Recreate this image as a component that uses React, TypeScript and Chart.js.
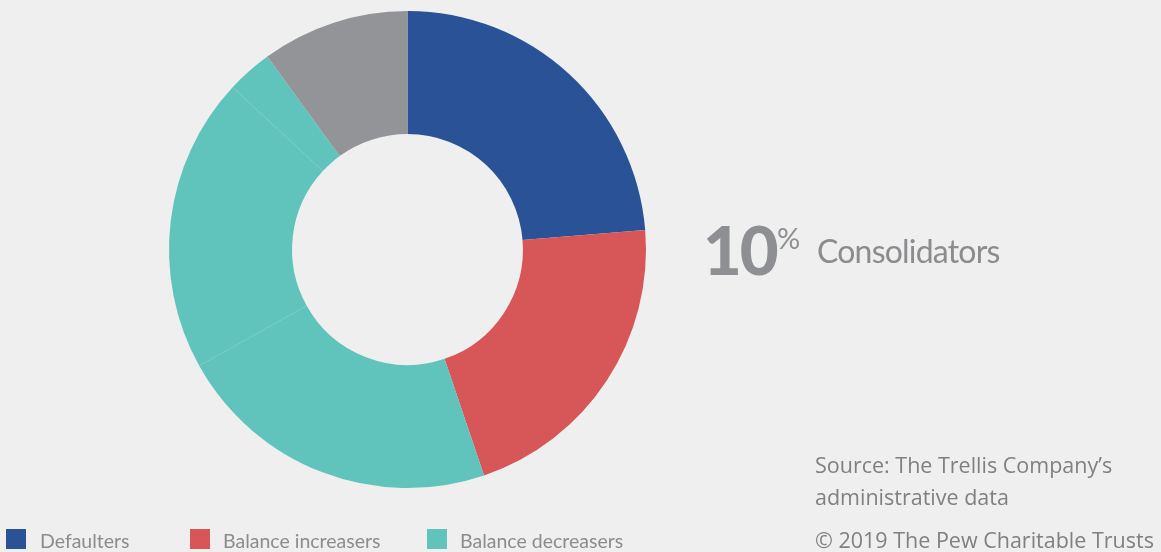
import React, { useEffect, useRef } from "react";
import { Chart, registerables } from "chart.js";

Chart.register(...registerables);

const segmentLabels = [
  "Defaulters",
  "Balance increasers",
  "Balance decreasers",
  "Balance decreasers",
  "Balance decreasers",
  "Consolidators",
];
const segmentValues = [23.7, 21.1, 22.1, 20.0, 3.1, 10.0];
const segmentColors = ["#2a5297", "#d75657", "#60c4bc", "#60c4bc", "#60c4bc", "#939497"];

const legendLabels = ["Defaulters", "Balance increasers", "Balance decreasers"];
const legendColors = ["#2a5297", "#d75657", "#60c4bc"];
const legendX = [6, 190, 427];
const legendTextX = [40, 223, 460];

const highlightValue = "10";
const highlightLabel = "Consolidators";
const sourceLines = ["Source: The Trellis Company\u2019s", "administrative data"];
const copyright = "\u00a9 2019 The Pew Charitable Trusts";

const textColor = "#8b8c8e";
const font = "Lato, 'Open Sans', sans-serif";
const sourceFont = "'Open Sans', Lato, sans-serif";

export default function App() {
  const canvasRef = useRef<HTMLCanvasElement | null>(null);

  useEffect(() => {
    const canvas = canvasRef.current;
    if (!canvas) return;
    const chart = new Chart(canvas, {
      type: "doughnut",
      data: {
        labels: segmentLabels,
        datasets: [
          {
            data: segmentValues,
            backgroundColor: segmentColors,
            borderWidth: 0,
          },
        ],
      },
      options: {
        responsive: false,
        animation: false,
        cutout: "48.4%",
        layout: { padding: { left: 169, right: 515, top: 11, bottom: 64 } },
        plugins: {
          legend: { display: false },
          tooltip: { enabled: false },
        },
      },
    });
    return () => chart.destroy();
  }, []);

  return (
    <div
      style={{
        position: "fixed",
        left: 0,
        top: 0,
        width: 1161,
        height: 552,
        background: "#efefef",
        overflow: "hidden",
        fontFamily: font,
        color: textColor,
      }}
    >
      <canvas
        ref={canvasRef}
        width={1161}
        height={552}
        style={{ position: "absolute", left: 0, top: 0, width: 1161, height: 552 }}
      />
      <div
        style={{
          position: "absolute",
          left: 703,
          top: 209,
          fontSize: 67,
          fontWeight: 900,
          lineHeight: 1.2,
          whiteSpace: "nowrap",
          color: "#8e8f92",
          letterSpacing: -2,
        }}
      >
        {highlightValue}
      </div>
      <div
        style={{
          position: "absolute",
          left: 777,
          top: 221,
          fontSize: 29,
          lineHeight: 1.2,
          color: "#8e8f92",
        }}
      >
        %
      </div>
      <div
        style={{
          position: "absolute",
          left: 817,
          top: 232,
          fontSize: 32,
          letterSpacing: -0.8,
          lineHeight: 1.2,
          whiteSpace: "nowrap",
        }}
      >
        {highlightLabel}
      </div>
      {sourceLines.map((line, i) => (
        <div
          key={i}
          style={{
            position: "absolute",
            left: 815,
            top: 452 + i * 31.5,
            fontSize: 21.5,
            fontFamily: sourceFont,
            lineHeight: 1.2,
            whiteSpace: "nowrap",
            color: "#7f8083",
          }}
        >
          {line}
        </div>
      ))}
      <div
        style={{
          position: "absolute",
          left: 815,
          top: 527,
          fontSize: 21.5,
          fontFamily: sourceFont,
          lineHeight: 1.2,
          whiteSpace: "nowrap",
          color: "#7f8083",
        }}
      >
        {copyright}
      </div>
      {legendLabels.map((label, i) => (
        <div key={i}>
          <div
            style={{
              position: "absolute",
              left: legendX[i],
              top: 529,
              width: 20,
              height: 20,
              background: legendColors[i],
            }}
          />
          <div
            style={{
              position: "absolute",
              left: legendTextX[i],
              top: 529,
              fontSize: 19.5,
              lineHeight: 1.2,
              whiteSpace: "nowrap",
              color: textColor,
            }}
          >
            {label}
          </div>
        </div>
      ))}
    </div>
  );
}
